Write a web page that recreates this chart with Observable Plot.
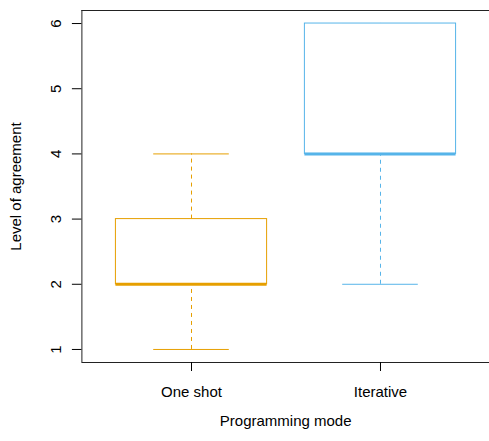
<!DOCTYPE html>
<html><head><meta charset="utf-8">
<script src="https://cdn.jsdelivr.net/npm/d3@7"></script>
<script src="https://cdn.jsdelivr.net/npm/@observablehq/plot@0.6"></script>
<style>html,body{margin:0;background:#fff;overflow:hidden} svg{overflow:hidden}</style>
</head><body><div id="chart"></div>
<script>
const categories = ["One shot", "Iterative"];
const positions = [1, 2];
const whiskerLow = [1, 2];
const q1 = [2, 4];
const median = [2, 4];
const q3 = [3, 6];
const whiskerHigh = [4, 6];
const colors = ["#E69F00", "#56B4E9"];
const yTicks = [1, 2, 3, 4, 5, 6];
const xLabel = "Programming mode";
const yLabel = "Level of agreement";

const data = categories.map((c, i) => ({
  category: c, pos: positions[i], lo: whiskerLow[i], q1: q1[i],
  med: median[i], q3: q3[i], hi: whiskerHigh[i], color: colors[i]
}));
const boxHalf = 0.4, capHalf = 0.2;
const xDomain = [0.42, 2.58], yDomain = [0.8, 6.2];

const chart = Plot.plot({
  width: 489,
  height: 441,
  marginTop: 10,
  marginBottom: 79,
  marginLeft: 81.4,
  marginRight: 0,
  style: {fontFamily: "'Liberation Sans', Arial, sans-serif", fontSize: "15px", color: "black", background: "white", overflow: "hidden"},
  x: {type: "linear", domain: xDomain, range: [81.4, 489.6]},
  y: {type: "linear", domain: yDomain, range: [362, 10]},
  color: {type: "identity"},
  marks: [
    Plot.ruleY(yDomain, {stroke: "#222"}),
    Plot.ruleX([xDomain[0]], {stroke: "#222"}),
    Plot.ruleX(data, {x: "pos", y1: "q3", y2: "hi", stroke: "color", strokeDasharray: "4,4"}),
    Plot.ruleX(data, {x: "pos", y1: "lo", y2: "q1", stroke: "color", strokeDasharray: "4,4"}),
    Plot.ruleY(data, {y: "hi", x1: d => d.pos - capHalf, x2: d => d.pos + capHalf, stroke: "color"}),
    Plot.ruleY(data, {y: "lo", x1: d => d.pos - capHalf, x2: d => d.pos + capHalf, stroke: "color"}),
    Plot.rect(data, {x1: d => d.pos - boxHalf, x2: d => d.pos + boxHalf, y1: "q1", y2: "q3", fill: "white", stroke: "color"}),
    Plot.ruleY(data, {y: "med", x1: d => d.pos - boxHalf, x2: d => d.pos + boxHalf, stroke: "color", strokeWidth: 3}),
    Plot.axisY({ticks: yTicks, tickSize: 9.5, tickFormat: () => "", label: null}),
    Plot.text(yTicks, {y: d => d, text: d => String(d), frameAnchor: "left", dx: -21.4, rotate: -90, lineAnchor: "bottom", textAnchor: "middle"}),
    Plot.axisX({ticks: positions, tickSize: 9, tickPadding: 15, tickFormat: d => categories[d - 1], label: null}),
    Plot.text([yLabel], {text: d => d, frameAnchor: "left", dx: -60.7, rotate: -90, lineAnchor: "bottom", textAnchor: "middle"}),
    Plot.text([xLabel], {text: d => d, frameAnchor: "bottom", dy: 53, lineAnchor: "top", textAnchor: "middle"})
  ]
});
document.getElementById("chart").appendChild(chart);
</script>
</body></html>
